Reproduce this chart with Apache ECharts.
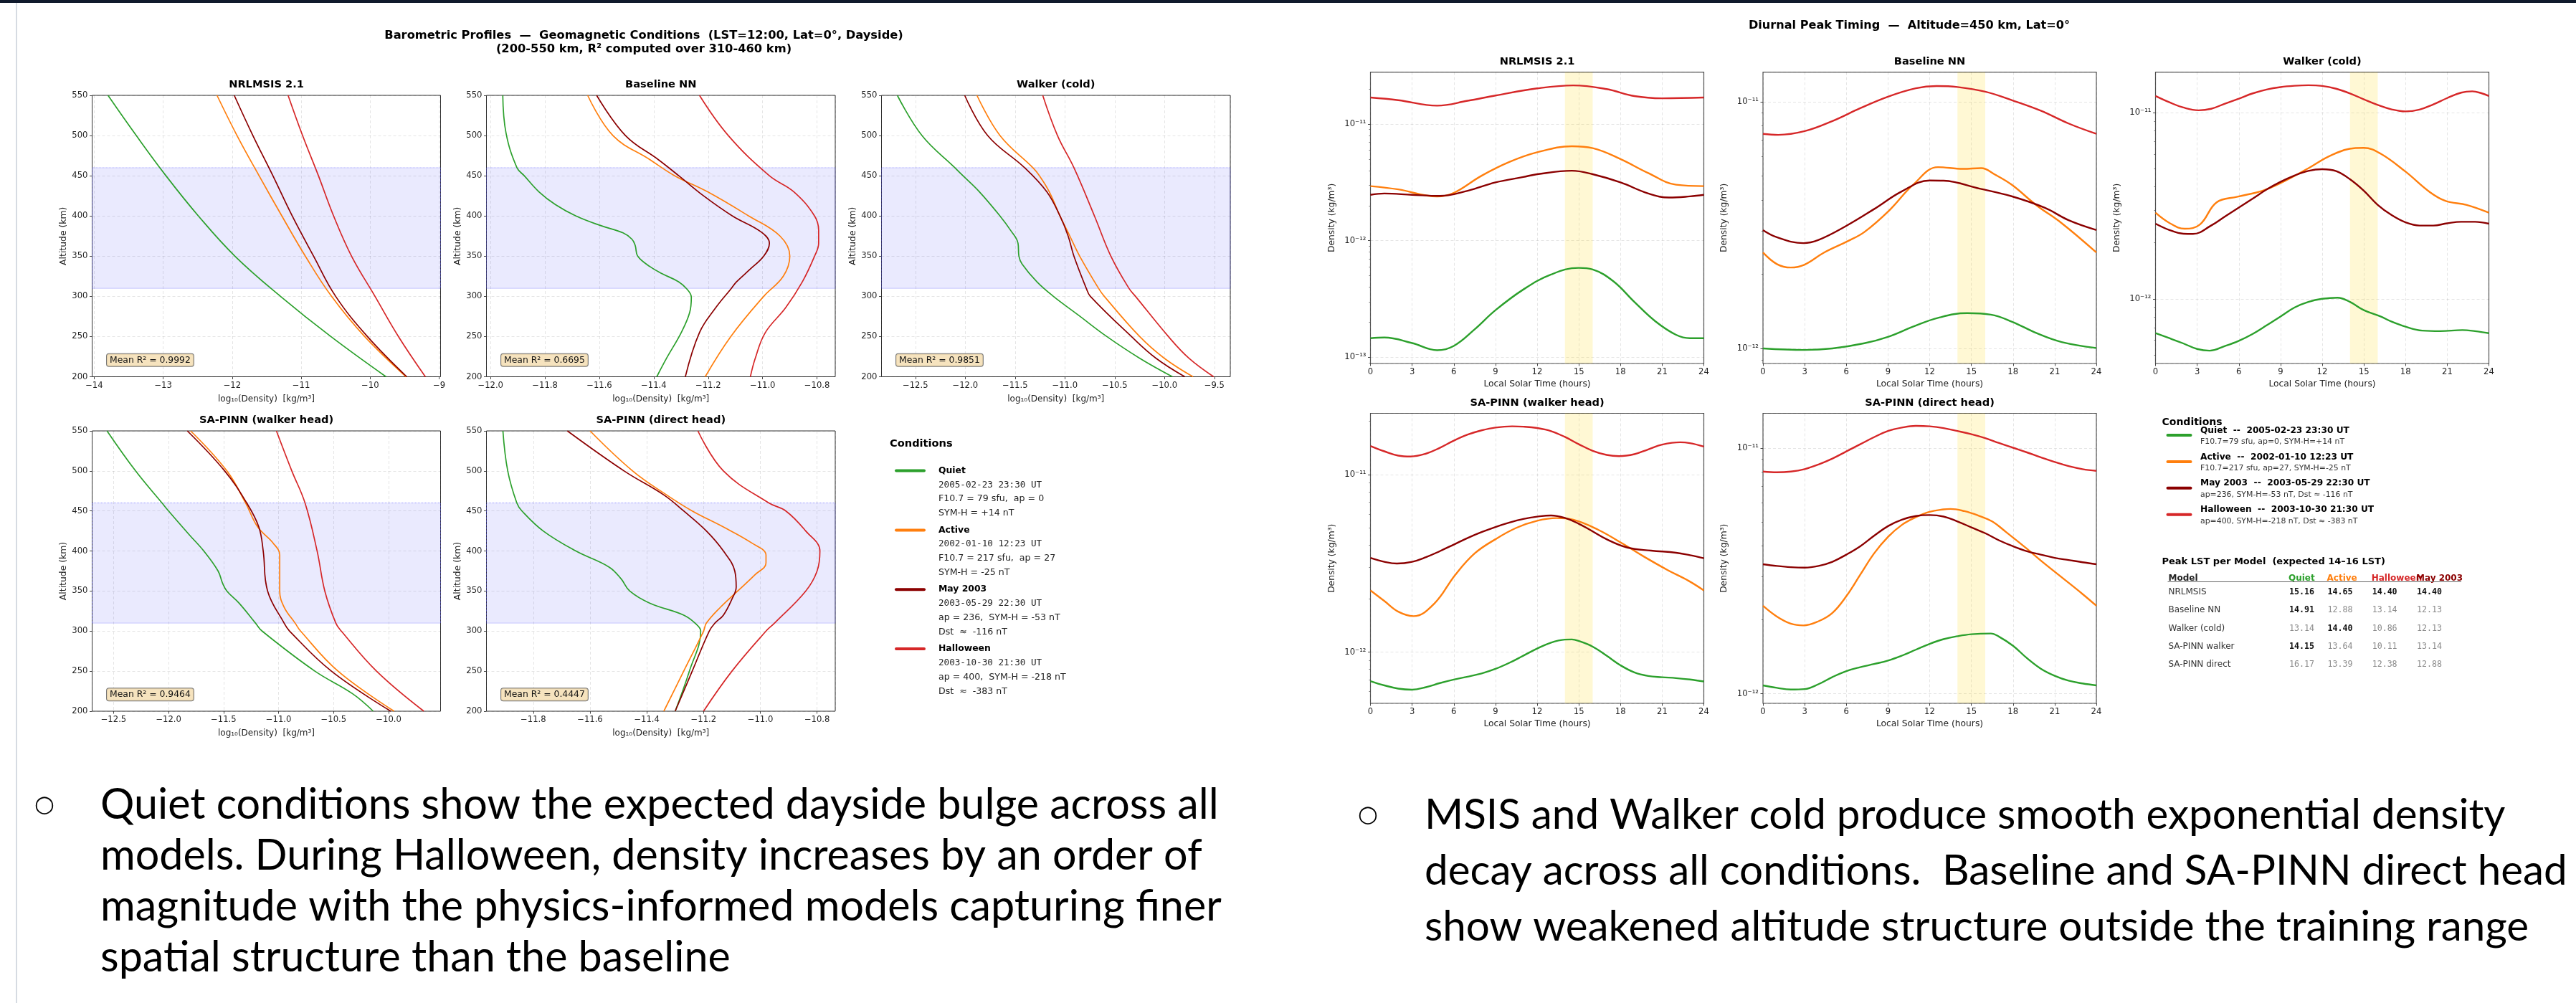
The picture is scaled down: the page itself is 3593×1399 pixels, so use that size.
<!DOCTYPE html>
<html>
<head>
<meta charset="utf-8">
<title>Barometric Profiles / Diurnal Peak Timing</title>
<script src="https://cdn.jsdelivr.net/npm/echarts@6/dist/echarts.min.js"></script>
<style>
  html, body { margin: 0; padding: 0; background: #fff; }
  #chart { width: 3593px; height: 1399px; }
</style>
</head>
<body>
<div id="chart"></div>
<script>
// ---------- data: altitude profiles, [log10(density), altitude km] ----------
const msisQuiet = [[-13.80,550],[-13.39,500],[-12.96,450],[-12.49,400],[-11.96,350],[-11.30,300],[-10.57,250],[-9.77,200]];
const msisActive = [[-12.22,550],[-11.93,500],[-11.61,450],[-11.28,400],[-10.94,350],[-10.56,300],[-10.08,250],[-9.48,200]];
const msisMay = [[-11.97,550],[-11.70,500],[-11.41,450],[-11.13,400],[-10.82,350],[-10.50,300],[-10.04,250],[-9.47,200]];
const msisHalloween = [[-11.19,550],[-10.98,500],[-10.75,450],[-10.53,400],[-10.27,350],[-9.93,300],[-9.59,250],[-9.20,200]];

const blQuiet = [[-11.955,550],[-11.943,503],[-11.903,460],[-11.876,450],[-11.822,430],[-11.761,414],[-11.686,400],[-11.595,388],[-11.513,379],[-11.480,371],[-11.468,363],[-11.459,350],[-11.414,337],[-11.368,328],[-11.308,318],[-11.278,309],[-11.262,299],[-11.268,280],[-11.299,255],[-11.353,223],[-11.389,200]];
const blActive = [[-11.643,550],[-11.55,500],[-11.414,470],[-11.323,450],[-11.202,430],[-11.051,400],[-10.936,375],[-10.900,350],[-10.924,325],[-10.996,300],[-11.117,250],[-11.211,200]];
const blMay = [[-11.61,550],[-11.504,500],[-11.383,470],[-11.308,450],[-11.217,425],[-11.111,400],[-11.005,380],[-10.975,366],[-10.996,350],[-11.045,334],[-11.096,318],[-11.117,309],[-11.172,286],[-11.232,255],[-11.284,200]];
const blHalloween = [[-11.232,550],[-11.126,500],[-10.975,450],[-10.885,430],[-10.809,400],[-10.794,382],[-10.794,366],[-10.809,350],[-10.854,318],[-10.915,286],[-10.990,255],[-11.027,223],[-11.045,200]];

const wkQuiet = [[-12.681,550],[-12.434,500],[-12.104,460],[-12.022,450],[-11.857,430],[-11.651,400],[-11.544,382],[-11.470,366],[-11.461,350],[-11.428,340],[-11.280,318],[-11.115,300],[-10.868,277],[-10.579,250],[-10.249,223],[-9.920,200]];
const wkActive = [[-11.882,550],[-11.651,500],[-11.321,460],[-11.255,450],[-11.156,430],[-11.049,400],[-10.950,375],[-10.851,350],[-10.662,310],[-10.604,300],[-10.249,250],[-10.002,223],[-9.714,200]];
const wkMay = [[-12.005,550],[-11.775,500],[-11.404,460],[-11.181,430],[-11.049,400],[-10.967,375],[-10.909,350],[-10.785,310],[-10.744,300],[-10.332,250],[-10.085,223],[-9.796,200]];
const wkHalloween = [[-11.222,550],[-11.074,500],[-10.909,460],[-10.703,400],[-10.538,350],[-10.357,310],[-10.291,300],[-9.961,250],[-9.755,223],[-9.507,200]];

const pwQuiet = [[-12.56,550],[-12.30,500],[-12.06,460],[-12.0,450],[-11.81,420],[-11.68,400],[-11.55,375],[-11.51,360],[-11.47,350],[-11.36,335],[-11.21,310],[-11.15,300],[-10.67,250],[-10.33,222],[-10.14,200]];
const pwActive = [[-11.80,550],[-11.47,500],[-11.30,460],[-11.19,430],[-11.05,410],[-10.99,395],[-10.99,380],[-10.99,350],[-10.95,330],[-10.85,310],[-10.80,300],[-10.46,250],[-9.95,200]];
const pwMay = [[-11.83,550],[-11.49,500],[-11.29,460],[-11.18,430],[-11.14,400],[-11.10,350],[-10.95,310],[-10.90,300],[-10.52,250],[-9.98,200]];
const pwHalloween = [[-11.02,550],[-10.88,500],[-10.76,460],[-10.65,400],[-10.58,350],[-10.48,310],[-10.43,300],[-10.11,250],[-9.68,200]];

const pdQuiet = [[-11.907,550],[-11.89,500],[-11.858,460],[-11.84,450],[-11.765,425],[-11.65,400],[-11.533,380],[-11.49,365],[-11.46,350],[-11.39,335],[-11.27,320],[-11.23,310],[-11.21,300],[-11.25,250],[-11.30,200]];
const pdActive = [[-11.60,550],[-11.45,500],[-11.33,470],[-11.24,450],[-11.13,430],[-11.03,410],[-10.98,395],[-10.98,385],[-11.02,370],[-11.08,350],[-11.14,330],[-11.19,310],[-11.20,300],[-11.27,250],[-11.34,200]];
const pdMay = [[-11.68,550],[-11.48,500],[-11.34,470],[-11.27,450],[-11.19,425],[-11.13,400],[-11.09,375],[-11.085,355],[-11.10,340],[-11.13,320],[-11.16,310],[-11.18,300],[-11.24,250],[-11.30,200]];
const pdHalloween = [[-11.22,550],[-11.13,500],[-10.97,460],[-10.91,450],[-10.84,425],[-10.79,400],[-10.80,375],[-10.84,350],[-10.95,310],[-10.98,300],[-11.10,250],[-11.20,200]];

const meanR2 = [0.9992, 0.6695, 0.9851, 0.9464, 0.4447];

// ---------- data: diurnal curves at 450 km, [LST hours, log10(density)] ----------
const dMsisQuiet = [[0,-12.836],[1,-12.83],[3,-12.878],[4.8,-12.939],[6,-12.902],[7.5,-12.76],[9,-12.596],[11,-12.419],[13,-12.29],[15,-12.233],[16,-12.247],[17.5,-12.349],[19,-12.525],[20.5,-12.69],[22,-12.807],[23,-12.836],[24,-12.836]];
const dMsisActive = [[0,-11.532],[2,-11.56],[4.8,-11.621],[6,-11.59],[8,-11.443],[10,-11.325],[12,-11.242],[14.5,-11.19],[16,-11.206],[18,-11.30],[20,-11.42],[22,-11.52],[24,-11.532]];
const dMsisMay = [[0,-11.607],[1,-11.595],[3,-11.607],[5,-11.616],[7,-11.572],[9,-11.50],[11,-11.454],[12,-11.43],[14.5,-11.40],[16,-11.43],[18,-11.50],[20,-11.595],[21.5,-11.63],[23,-11.62],[24,-11.607]];
const dMsisHalloween = [[0,-10.772],[2,-10.795],[4.8,-10.842],[7,-10.80],[9,-10.755],[12,-10.694],[14.6,-10.668],[17,-10.70],[19,-10.76],[21,-10.779],[24,-10.772]];

const dBlQuiet = [[0,-12.0],[3,-12.006],[5,-12.0],[7.3,-11.979],[9,-11.953],[10.8,-11.912],[12.6,-11.876],[14.7,-11.857],[16.4,-11.863],[17.9,-11.891],[19.7,-11.938],[21.5,-11.974],[24,-11.998]];
const dBlActive = [[0,-11.611],[1,-11.658],[2,-11.672],[3,-11.66],[4.4,-11.611],[6.1,-11.565],[7.3,-11.528],[9.1,-11.44],[10.8,-11.337],[12.6,-11.265],[14.4,-11.272],[15.7,-11.269],[16.7,-11.295],[17.9,-11.336],[19.7,-11.42],[21.5,-11.492],[24,-11.611]];
const dBlMay = [[0,-11.520],[1,-11.549],[2.9,-11.573],[4,-11.560],[6,-11.503],[8,-11.435],[10,-11.363],[12,-11.319],[13,-11.32],[15.6,-11.352],[17.9,-11.383],[20.3,-11.43],[22,-11.48],[24,-11.520]];
const dBlHalloween = [[0,-11.13],[1.1,-11.134],[3,-11.119],[5,-11.078],[7,-11.026],[9,-10.979],[11,-10.945],[12.5,-10.936],[14,-10.94],[16,-10.959],[18,-10.995],[20,-11.036],[22,-11.088],[24,-11.13]];

const dWkQuiet = [[0,-12.185],[1,-12.212],[2,-12.240],[3,-12.270],[3.9,-12.279],[5,-12.254],[6,-12.226],[7,-12.189],[8,-12.143],[9,-12.095],[10,-12.047],[11,-12.017],[12,-12.0],[13.1,-11.994],[14,-12.017],[15,-12.061],[16.2,-12.095],[17,-12.123],[18,-12.150],[19.2,-12.171],[20.5,-12.174],[22.1,-12.168],[23,-12.174],[24,-12.185]];
const dWkActive = [[0,-11.537],[1,-11.592],[2.1,-11.623],[3.2,-11.6],[4.4,-11.481],[5.9,-11.451],[7.7,-11.419],[9.1,-11.374],[10.9,-11.302],[12.7,-11.226],[14.4,-11.189],[15,-11.188],[16.2,-11.219],[18,-11.316],[19.75,-11.426],[20.9,-11.474],[22.4,-11.495],[24,-11.537]];
const dWkMay = [[0,-11.596],[1,-11.630],[2,-11.650],[2.7,-11.651],[4,-11.606],[5,-11.557],[6,-11.509],[7,-11.461],[8,-11.412],[9,-11.371],[10,-11.337],[11,-11.312],[12,-11.303],[13,-11.313],[14,-11.357],[15,-11.419],[16,-11.495],[17,-11.550],[18,-11.589],[19,-11.606],[20,-11.606],[21,-11.594],[22,-11.586],[23,-11.586],[24,-11.596]];
const dWkHalloween = [[0,-10.909],[1,-10.943],[2,-10.971],[3.1,-10.986],[4,-10.978],[5,-10.950],[6,-10.923],[7,-10.895],[8,-10.874],[9,-10.861],[10,-10.854],[11,-10.851],[12,-10.855],[13,-10.870],[14,-10.895],[15,-10.927],[16,-10.957],[17,-10.981],[18,-10.992],[19,-10.982],[20,-10.954],[21,-10.920],[22,-10.891],[22.8,-10.884],[23.5,-10.895],[24,-10.909]];

const dPwQuiet = [[0,-12.163],[1,-12.187],[2,-12.205],[3,-12.211],[4,-12.197],[5,-12.174],[6,-12.154],[7,-12.138],[8,-12.120],[9,-12.094],[10,-12.060],[11,-12.020],[12,-11.980],[13,-11.946],[14,-11.929],[14.5,-11.928],[15,-11.937],[16,-11.969],[17,-12.020],[18,-12.074],[19,-12.114],[20,-12.134],[21,-12.141],[22,-12.146],[23,-12.154],[24,-12.165]];
const dPwActive = [[0,-11.652],[1,-11.712],[2,-11.772],[3.1,-11.797],[4.6,-11.726],[6.1,-11.565],[7.5,-11.444],[9,-11.364],[10.5,-11.300],[12,-11.260],[13.4,-11.245],[14.6,-11.254],[16.4,-11.311],[18.2,-11.391],[19.6,-11.458],[21.4,-11.538],[22.9,-11.598],[24,-11.652]];
const dPwMay = [[0,-11.469],[1,-11.491],[1.9,-11.501],[3,-11.491],[4,-11.465],[5,-11.431],[6,-11.394],[7,-11.357],[8,-11.324],[9,-11.295],[10,-11.270],[11,-11.250],[12,-11.237],[13,-11.230],[14,-11.244],[15,-11.277],[15.8,-11.311],[17,-11.364],[18.5,-11.411],[20.2,-11.428],[22,-11.440],[23,-11.454],[24,-11.471]];
const dPwHalloween = [[0,-10.839],[1,-10.869],[2,-10.893],[2.9,-10.898],[4,-10.882],[5,-10.849],[6,-10.809],[7,-10.775],[8,-10.751],[9,-10.735],[10.2,-10.728],[11,-10.730],[12,-10.738],[13,-10.755],[14,-10.788],[15,-10.829],[16,-10.866],[17,-10.889],[17.9,-10.896],[19,-10.885],[20,-10.858],[21,-10.831],[22.3,-10.818],[23,-10.823],[24,-10.842]];

const dPdQuiet = [[0,-11.966],[1,-11.976],[2,-11.983],[3,-11.981],[4,-11.961],[5,-11.932],[6,-11.908],[7,-11.892],[8,-11.879],[9,-11.865],[10,-11.845],[11,-11.821],[12,-11.797],[13,-11.778],[14,-11.766],[15,-11.758],[16.4,-11.755],[17,-11.768],[18,-11.805],[19,-11.855],[20,-11.898],[21,-11.927],[22,-11.947],[23,-11.958],[24,-11.966]];
const dPdActive = [[0,-11.642],[1,-11.686],[2,-11.715],[2.9,-11.722],[4,-11.705],[5,-11.671],[6,-11.603],[7,-11.516],[8,-11.429],[9,-11.362],[10,-11.313],[11,-11.282],[12,-11.260],[13,-11.250],[13.5,-11.248],[14.5,-11.257],[15.5,-11.275],[16.5,-11.299],[17.5,-11.342],[19,-11.410],[20,-11.458],[21.5,-11.526],[23,-11.594],[24,-11.642]];
const dPdMay = [[0,-11.473],[1,-11.480],[2,-11.485],[3,-11.487],[4,-11.480],[5,-11.463],[6,-11.434],[7,-11.400],[8,-11.357],[9,-11.318],[10,-11.292],[11,-11.277],[12,-11.273],[13,-11.279],[14,-11.299],[15,-11.323],[16,-11.347],[17,-11.376],[18,-11.400],[19,-11.420],[20,-11.434],[21,-11.447],[22,-11.456],[23,-11.465],[24,-11.473]];
const dPdHalloween = [[0,-11.096],[1,-11.099],[2,-11.096],[3,-11.086],[4,-11.067],[5,-11.043],[6,-11.014],[7,-10.985],[8,-10.956],[9,-10.931],[10,-10.917],[11,-10.910],[12,-10.912],[13,-10.919],[14,-10.931],[15,-10.944],[16,-10.960],[17,-10.980],[18,-10.999],[19,-11.018],[20,-11.038],[21,-11.057],[22,-11.074],[23,-11.086],[24,-11.093]];

// ---------- legends / table ----------
const conditionNames = ['Quiet', 'Active', 'May 2003', 'Halloween'];
const conditionDates = ['2005-02-23 23:30 UT', '2002-01-10 12:23 UT', '2003-05-29 22:30 UT', '2003-10-30 21:30 UT'];
const profileLegendInfo = [
  ['F10.7 = 79 sfu,  ap = 0', 'SYM-H = +14 nT'],
  ['F10.7 = 217 sfu,  ap = 27', 'SYM-H = -25 nT'],
  ['ap = 236,  SYM-H = -53 nT', 'Dst  \u2248  -116 nT'],
  ['ap = 400,  SYM-H = -218 nT', 'Dst  \u2248  -383 nT'],
];
const diurnalLegendInfo = [
  'F10.7=79 sfu, ap=0, SYM-H=+14 nT',
  'F10.7=217 sfu, ap=27, SYM-H=-25 nT',
  'ap=236, SYM-H=-53 nT, Dst \u2248 -116 nT',
  'ap=400, SYM-H=-218 nT, Dst \u2248 -383 nT',
];
const tableModels = ['NRLMSIS', 'Baseline NN', 'Walker (cold)', 'SA-PINN walker', 'SA-PINN direct'];
const tableColumns = ['Quiet', 'Active', 'Halloween', 'May 2003'];
const peakQuiet = [15.16, 14.91, 13.14, 14.15, 16.17];
const peakActive = [14.65, 12.88, 14.40, 13.64, 13.39];
const peakHalloween = [14.40, 13.14, 10.86, 10.11, 12.38];
const peakMay = [14.40, 12.13, 12.13, 13.14, 12.88];

const leftNotes = [
  'Quiet conditions show the expected dayside bulge across all',
  'models. During Halloween, density increases by an order of',
  'magnitude with the physics-informed models capturing finer',
  'spatial structure than the baseline',
];
const rightNotes = [
  'MSIS and Walker cold produce smooth exponential density',
  'decay across all conditions.  Baseline and SA-PINN direct head',
  'show weakened altitude structure outside the training range',
];

// ---------- styling / layout ----------
const W = 3593, H = 1399;
const FONT = 'DejaVu Sans';
const MONO = 'DejaVu Sans Mono';
const COLORS = { Quiet: '#2ca02c', Active: '#ff7f0e', 'May 2003': '#8b0000', Halloween: '#d62728' };
const curveColors = [COLORS.Quiet, COLORS.Active, COLORS['May 2003'], COLORS.Halloween];

const profilePanels = [
  { title: 'NRLMSIS 2.1', curves: [msisQuiet, msisActive, msisMay, msisHalloween], min: -14.03, max: -8.98, step: 1, dec: 0, box: [128.5, 133, 486, 392.5] },
  { title: 'Baseline NN', curves: [blQuiet, blActive, blMay, blHalloween], min: -12.015, max: -10.733, step: 0.2, dec: 1, box: [678.5, 133, 486.5, 392.5] },
  { title: 'Walker (cold)', curves: [wkQuiet, wkActive, wkMay, wkHalloween], min: -12.84, max: -9.34, step: 0.5, dec: 1, box: [1229.5, 133, 486.5, 392.5] },
  { title: 'SA-PINN (walker head)', curves: [pwQuiet, pwActive, pwMay, pwHalloween], min: -12.695, max: -9.528, step: 0.5, dec: 1, box: [128.5, 601, 486, 391] },
  { title: 'SA-PINN (direct head)', curves: [pdQuiet, pdActive, pdMay, pdHalloween], min: -11.965, max: -10.736, step: 0.2, dec: 1, box: [678.5, 601, 486.5, 391] },
];
const diurnalPanels = [
  { title: 'NRLMSIS 2.1', curves: [dMsisQuiet, dMsisActive, dMsisMay, dMsisHalloween], min: -13.053, max: -10.555, box: [1911.5, 100.7, 465, 406.3] },
  { title: 'Baseline NN', curves: [dBlQuiet, dBlActive, dBlMay, dBlHalloween], min: -12.061, max: -10.88, box: [2459, 100.7, 465, 406.3] },
  { title: 'Walker (cold)', curves: [dWkQuiet, dWkActive, dWkMay, dWkHalloween], min: -12.348, max: -10.781, box: [3006.5, 100.7, 465, 406.3] },
  { title: 'SA-PINN (walker head)', curves: [dPwQuiet, dPwActive, dPwMay, dPwHalloween], min: -12.288, max: -10.655, box: [1911.5, 576.5, 465, 404.5] },
  { title: 'SA-PINN (direct head)', curves: [dPdQuiet, dPdActive, dPdMay, dPdHalloween], min: -12.039, max: -10.859, box: [2459, 576.5, 465, 404.5] },
];

const SUP = { '-': '\u207b', '0': '\u2070', '1': '\u00b9', '2': '\u00b2', '3': '\u00b3', '4': '\u2074', '5': '\u2075', '6': '\u2076', '7': '\u2077', '8': '\u2078', '9': '\u2079' };
const pow10 = v => '10' + String(Math.round(v)).split('').map(c => SUP[c]).join('');
const minus = s => String(s).replace('-', '\u2212');

// positions of log-axis minor ticks (2..9 x 10^n) inside [lo, hi]
function minorLogTicks(lo, hi) {
  const out = [];
  for (let n = Math.floor(lo); n <= Math.ceil(hi); n++) {
    for (let m = 2; m <= 9; m++) {
      const v = n + Math.log10(m);
      if (v > lo && v < hi) out.push(v);
    }
  }
  return out;
}

function txt(x, y, s, o) {
  o = o || {};
  return {
    type: 'text', x: x, y: y, silent: true, z: 50,
    style: Object.assign({
      text: s, fontFamily: FONT, fontSize: 12, fontWeight: 'normal', fill: '#000',
      align: 'left', verticalAlign: 'middle',
    }, o),
  };
}

const grids = [], xAxes = [], yAxes = [], series = [], gfx = [];
const splitStyle = { show: true, lineStyle: { color: 'rgba(0,0,0,0.13)', width: 0.8, type: [4, 3] } };
const tickStyle = { show: true, length: 3.5, lineStyle: { color: '#333', width: 0.9 } };
const labelBase = { fontFamily: FONT, fontSize: 11.6, color: '#222' };

// left figure: altitude profiles
profilePanels.forEach((p, i) => {
  const [l, t, w, h] = p.box;
  grids.push({ left: l, top: t, width: w, height: h, show: true, borderColor: '#333', borderWidth: 1 });
  xAxes.push({
    type: 'value', gridIndex: i, min: p.min, max: p.max, minInterval: p.step, maxInterval: p.step,
    name: 'log\u2081\u2080(Density)  [kg/m\u00b3]', nameLocation: 'middle', nameGap: 25,
    nameTextStyle: { fontFamily: FONT, fontSize: 12, color: '#222' },
    axisLine: { show: false }, axisTick: tickStyle, splitLine: splitStyle,
    axisLabel: Object.assign({ margin: 6, showMinLabel: false, showMaxLabel: false,
      formatter: v => minus(v.toFixed(p.dec)) }, labelBase),
  });
  yAxes.push({
    type: 'value', gridIndex: i, min: 200, max: 550, interval: 50,
    name: 'Altitude (km)', nameLocation: 'middle', nameGap: 34,
    nameTextStyle: { fontFamily: FONT, fontSize: 12.4, color: '#222' },
    axisLine: { show: false }, axisTick: tickStyle, splitLine: splitStyle,
    axisLabel: Object.assign({ margin: 6 }, labelBase),
  });
  p.curves.forEach((c, k) => {
    const s = {
      type: 'line', xAxisIndex: i, yAxisIndex: i, data: c, showSymbol: false, silent: true,
      smooth: 0.4, lineStyle: { color: curveColors[k], width: 1.7 }, z: 3 + k,
    };
    if (k === 0) {
      s.markArea = {
        silent: true,
        itemStyle: { color: 'rgba(30,30,240,0.095)', borderColor: 'rgba(90,90,255,0.6)', borderWidth: 1, borderType: 'dotted' },
        data: [[{ yAxis: 310 }, { yAxis: 460 }]],
      };
    }
    series.push(s);
  });
  gfx.push(txt(l + w / 2, t - 14.5, p.title, { fontSize: 14.6, fontWeight: 'bold', align: 'center' }));
  gfx.push(txt(l + 20.5, t + h - 23.2, 'Mean R\u00b2 = ' + meanR2[i].toFixed(4), {
    fontSize: 12.4, fill: '#111', backgroundColor: 'rgba(245,222,179,0.85)', borderColor: '#777',
    borderWidth: 1, borderRadius: 3, padding: [3, 4, 2, 4],
  }));
});

// right figure: diurnal curves (density on a log10 scale)
const minorAxes = [];
diurnalPanels.forEach((p, j) => {
  const i = j + profilePanels.length;
  const [l, t, w, h] = p.box;
  grids.push({ left: l, top: t, width: w, height: h, show: true, borderColor: '#555', borderWidth: 1.2 });
  xAxes.push({
    type: 'value', gridIndex: i, min: 0, max: 24, interval: 3,
    name: 'Local Solar Time (hours)', nameLocation: 'middle', nameGap: 23,
    nameTextStyle: { fontFamily: FONT, fontSize: 12.3, color: '#222' },
    axisLine: { show: false }, axisTick: tickStyle, splitLine: splitStyle,
    axisLabel: Object.assign({ margin: 6 }, labelBase),
  });
  yAxes.push({
    type: 'value', gridIndex: i, min: p.min, max: p.max, minInterval: 1, maxInterval: 1,
    name: 'Density (kg/m\u00b3)', nameLocation: 'middle', nameGap: 48,
    nameTextStyle: { fontFamily: FONT, fontSize: 12.3, color: '#222' },
    axisLine: { show: false }, axisTick: tickStyle, splitLine: splitStyle,
    axisLabel: Object.assign({ margin: 6, showMinLabel: false, showMaxLabel: false, formatter: pow10 }, labelBase),
  });
  minorAxes.push({
    type: 'value', gridIndex: i, min: p.min, max: p.max, position: 'left',
    axisLine: { show: false }, axisLabel: { show: false }, splitLine: { show: false },
    axisTick: { show: true, length: 2, customValues: minorLogTicks(p.min, p.max), lineStyle: { color: '#444', width: 0.7 } },
  });
  p.curves.forEach((c, k) => {
    const s = {
      type: 'line', xAxisIndex: i, yAxisIndex: i, data: c, showSymbol: false, silent: true,
      smooth: 0.4, lineStyle: { color: curveColors[k], width: 2.4 }, z: 3 + k,
    };
    if (k === 0) {
      s.markArea = {
        silent: true,
        itemStyle: { color: 'rgba(255,215,0,0.17)' },
        data: [[{ xAxis: 14 }, { xAxis: 16 }]],
      };
    }
    series.push(s);
  });
  gfx.push(txt(l + w / 2, t - 14.7, p.title, { fontSize: 14.6, fontWeight: 'bold', align: 'center' }));
});

// page frame
gfx.push({ type: 'rect', shape: { x: 0, y: 0, width: W, height: 4 }, style: { fill: '#101a2c' }, silent: true, z: 60 });
gfx.push({ type: 'rect', shape: { x: 22, y: 4, width: 2, height: H - 4 }, style: { fill: '#d6dbe2' }, silent: true, z: 60 });

// figure titles
gfx.push(txt(898, 50, 'Barometric Profiles  \u2014  Geomagnetic Conditions  (LST=12:00, Lat=0\u00b0, Dayside)', { fontSize: 16.3, fontWeight: 'bold', align: 'center' }));
gfx.push(txt(898, 68.5, '(200-550 km, R\u00b2 computed over 310-460 km)', { fontSize: 16.3, fontWeight: 'bold', align: 'center' }));
gfx.push(txt(2663, 36, 'Diurnal Peak Timing  \u2014  Altitude=450 km, Lat=0\u00b0', { fontSize: 16.1, fontWeight: 'bold', align: 'center' }));

// left legend
gfx.push(txt(1241, 619.6, 'Conditions', { fontSize: 14.6, fontWeight: 'bold' }));
conditionNames.forEach((name, k) => {
  const y0 = 656.6 + k * 82.8;
  gfx.push({ type: 'line', silent: true, z: 50, shape: { x1: 1250, y1: y0, x2: 1289, y2: y0 },
    style: { stroke: COLORS[name], lineWidth: 4, lineCap: 'round' } });
  gfx.push(txt(1309, y0, name, { fontSize: 12.4, fontWeight: 'bold' }));
  gfx.push(txt(1309, y0 + 19.8, conditionDates[k], { fontFamily: MONO, fontSize: 12.6, fill: '#222' }));
  profileLegendInfo[k].forEach((s, m) => gfx.push(txt(1309, y0 + 19.8 * (m + 2), s, { fontSize: 12.6, fill: '#222' })));
});

// right legend
gfx.push(txt(3015.5, 589, 'Conditions', { fontSize: 14, fontWeight: 'bold' }));
conditionNames.forEach((name, k) => {
  const y0 = 600.5 + k * 36.9;
  gfx.push({ type: 'line', silent: true, z: 50, shape: { x1: 3023.5, y1: y0 + 6.5, x2: 3055.5, y2: y0 + 6.5 },
    style: { stroke: COLORS[name], lineWidth: 4, lineCap: 'round' } });
  gfx.push(txt(3069, y0, name + '  --  ' + conditionDates[k], { fontSize: 12.2, fontWeight: 'bold' }));
  gfx.push(txt(3069, y0 + 16, diurnalLegendInfo[k], { fontSize: 10.9, fill: '#333' }));
});

// peak LST table
gfx.push(txt(3015.5, 784, 'Peak LST per Model  (expected 14\u201316 LST)', { fontSize: 13, fontWeight: 'bold' }));
const colX = [3193, 3246.5, 3308.7, 3371];
gfx.push(txt(3024.5, 806.6, 'Model', { fontSize: 12, fontWeight: 'bold', fill: '#222' }));
tableColumns.forEach((c, k) => gfx.push(txt(colX[k] - 1, 806.6, c, { fontSize: 12, fontWeight: 'bold', fill: COLORS[c] })));
gfx.push({ type: 'line', silent: true, z: 50, shape: { x1: 3023.5, y1: 811.5, x2: 3433, y2: 811.5 }, style: { stroke: '#666', lineWidth: 1 } });
const peakCols = [peakQuiet, peakActive, peakHalloween, peakMay];
tableModels.forEach((m, r) => {
  const y = 826 + r * 25.25;
  gfx.push(txt(3024.5, y, m, { fontSize: 12, fill: '#333' }));
  peakCols.forEach((col, k) => {
    const v = col[r];
    const good = v >= 14 && v <= 16;
    gfx.push(txt(colX[k], y, v.toFixed(2), { fontFamily: MONO, fontSize: 11.6,
      fontWeight: good ? 'bold' : 'normal', fill: good ? '#111' : '#8a8a8a' }));
  });
});

// bullet notes (font size fitted to the width of each block's first line)
const NOTE_FONT = 'Lato';
const ctx = document.createElement('canvas').getContext('2d');
ctx.font = '100px ' + NOTE_FONT;
const leftNoteSize = 100 * 1560 / ctx.measureText(leftNotes[0]).width;
const rightNoteSize = 100 * 1508 / ctx.measureText(rightNotes[0]).width;
gfx.push(txt(62, 1124, '\u25cb', { fontSize: 32, align: 'center' }));
leftNotes.forEach((s, k) => gfx.push(txt(140, 1123 + k * 71, s, { fontFamily: NOTE_FONT, fontSize: leftNoteSize })));
gfx.push(txt(1908, 1138, '\u25cb', { fontSize: 32, align: 'center' }));
rightNotes.forEach((s, k) => gfx.push(txt(1987, 1137 + k * 78, s, { fontFamily: NOTE_FONT, fontSize: rightNoteSize })));

const chart = echarts.init(document.getElementById('chart'), null, { renderer: 'canvas', width: W, height: H });
chart.setOption({
  backgroundColor: '#fff',
  animation: false,
  textStyle: { fontFamily: FONT },
  grid: grids,
  xAxis: xAxes,
  yAxis: yAxes.concat(minorAxes),
  series: series,
  graphic: { elements: gfx },
});
</script>
</body>
</html>
